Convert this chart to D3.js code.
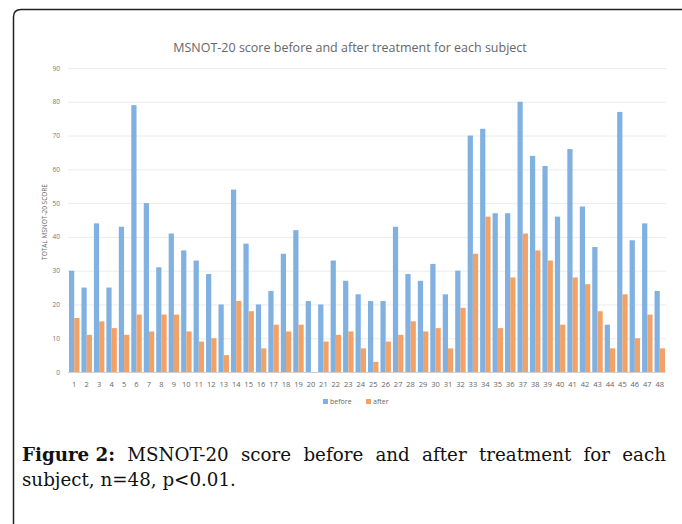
<!DOCTYPE html>
<html>
<head>
<meta charset="utf-8">
<script src="https://cdn.jsdelivr.net/npm/d3@7"></script>
<style>
  body { margin: 0; background: #fff; }
  svg { display: block; }
</style>
</head>
<body>
<svg id="chart" width="682" height="524"></svg>
<script>
const subjects = d3.range(1, 49).map(String);
const before = [30, 25, 44, 25, 43, 79, 50, 31, 41, 36, 33, 29, 20, 54, 38, 20, 24, 35, 42, 21,
  20, 33, 27, 23, 21, 21, 43, 29, 27, 32, 23, 30, 70, 72, 47, 47, 80, 64, 61, 46,
  66, 49, 37, 14, 77, 39, 44, 24];
const after = [16, 11, 15, 13, 11, 17, 12, 17, 17, 12, 9, 10, 5, 21, 18, 7, 14, 12, 14, 0,
  9, 11, 12, 7, 3, 9, 11, 15, 12, 13, 7, 19, 35, 46, 13, 28, 41, 36, 33, 14,
  28, 26, 18, 7, 23, 10, 17, 7];
const seriesNames = ["before", "after"];
const yTicks = d3.range(0, 91, 10);

const colors = { before: "#80b1e1", after: "#f3a267" };
const grey = "#666";

const svg = d3.select("#chart");

// frame
svg.append("path")
  .attr("d", "M13.5,524 L13.5,17 Q13.5,9.5 21,9.5 L682,9.5")
  .attr("fill", "none")
  .attr("stroke", "#222")
  .attr("stroke-width", 1.5);

const plotLeft = 68, plotRight = 666, plotTop = 68, plotBottom = 372;

const x = d3.scaleBand().domain(subjects).range([plotLeft, plotRight]).paddingInner(0.16).paddingOuter(0.08);
const xs = d3.scaleBand().domain(seriesNames).range([0, x.bandwidth()]);
const y = d3.scaleLinear().domain([0, 90]).range([plotBottom, plotTop]);

// gridlines
svg.append("g").selectAll("line")
  .data(yTicks.slice(1))
  .join("line")
  .attr("x1", plotLeft).attr("x2", plotRight)
  .attr("y1", d => y(d) + 0.5).attr("y2", d => y(d) + 0.5)
  .attr("stroke", "#ececec");

// y tick labels
svg.append("g").selectAll("text")
  .data(yTicks)
  .join("text")
  .attr("x", 60).attr("y", d => y(d) + 2.5)
  .attr("text-anchor", "end")
  .attr("font-family", "Open Sans, sans-serif")
  .attr("font-size", 6.5)
  .attr("fill", "#777")
  .text(d => d);

// bars
const groups = svg.append("g").selectAll("g")
  .data(subjects)
  .join("g")
  .attr("transform", d => `translate(${x(d)},0)`);

groups.selectAll("rect")
  .data((d, i) => seriesNames.map(k => ({ key: k, value: k === "before" ? before[i] : after[i] })))
  .join("rect")
  .attr("x", d => xs(d.key))
  .attr("width", xs.bandwidth())
  .attr("y", d => y(d.value))
  .attr("height", d => plotBottom - y(d.value))
  .attr("fill", d => colors[d.key]);

// x axis line
svg.append("line")
  .attr("x1", plotLeft).attr("x2", plotRight)
  .attr("y1", plotBottom + 0.5).attr("y2", plotBottom + 0.5)
  .attr("stroke", "#d0d0d0");

// x labels
svg.append("g").selectAll("text")
  .data(subjects)
  .join("text")
  .attr("x", d => x(d) + x.bandwidth() / 2)
  .attr("y", 387)
  .attr("text-anchor", "middle")
  .attr("font-family", "Open Sans, sans-serif")
  .attr("font-size", 7.5)
  .attr("fill", grey)
  .text(d => d);

// y axis title
svg.append("text")
  .attr("transform", `translate(47,${(plotTop + plotBottom) / 2 + 2}) rotate(-90)`)
  .attr("text-anchor", "middle")
  .attr("font-family", "Open Sans, sans-serif")
  .attr("font-size", 6.5)
  .attr("fill", grey)
  .text("TOTAL MSNOT-20 SCORE");

// chart title
svg.append("text")
  .attr("x", 350).attr("y", 52)
  .attr("text-anchor", "middle")
  .attr("font-family", "Open Sans, sans-serif")
  .attr("font-size", 12.5)
  .attr("fill", grey)
  .text("MSNOT-20 score before and after treatment for each subject");

// legend
const legendX = { before: 323, after: 366 };
const legend = svg.append("g").selectAll("g")
  .data(seriesNames)
  .join("g")
  .attr("transform", d => `translate(${legendX[d]},399)`);
legend.append("rect").attr("width", 5).attr("height", 5).attr("fill", d => colors[d]);
legend.append("text")
  .attr("x", 7).attr("y", 5)
  .attr("font-family", "Open Sans, sans-serif")
  .attr("font-size", 7)
  .attr("fill", grey)
  .text(d => d);

// caption: second line fitted to the reference width, first line justified
const capFont = "DejaVu Serif, serif";
const line1 = ["MSNOT-20", "score", "before", "and", "after", "treatment", "for", "each"];
const capLeft = 22, capRight = 666;
const cap = svg.append("g").attr("font-family", capFont).attr("font-size", 20).attr("fill", "#111");
const second = cap.append("text").attr("x", capLeft).attr("y", 486).text("subject, n=48, p<0.01.");
const capSize = 20 * 214 / second.node().getComputedTextLength();
cap.attr("font-size", capSize);
const words = [{ t: "Figure 2:", bold: true }].concat(line1.map(t => ({ t, bold: false })));
const nodes = words.map(w => cap.append("text")
  .attr("y", 461)
  .attr("font-weight", w.bold ? "bold" : "normal")
  .text(w.t));
const widths = nodes.map(n => n.node().getComputedTextLength());
const gap = (capRight - capLeft - d3.sum(widths)) / (nodes.length - 1);
let cx = capLeft;
nodes.forEach((n, i) => { n.attr("x", cx); cx += widths[i] + gap; });
</script>
</body>
</html>
